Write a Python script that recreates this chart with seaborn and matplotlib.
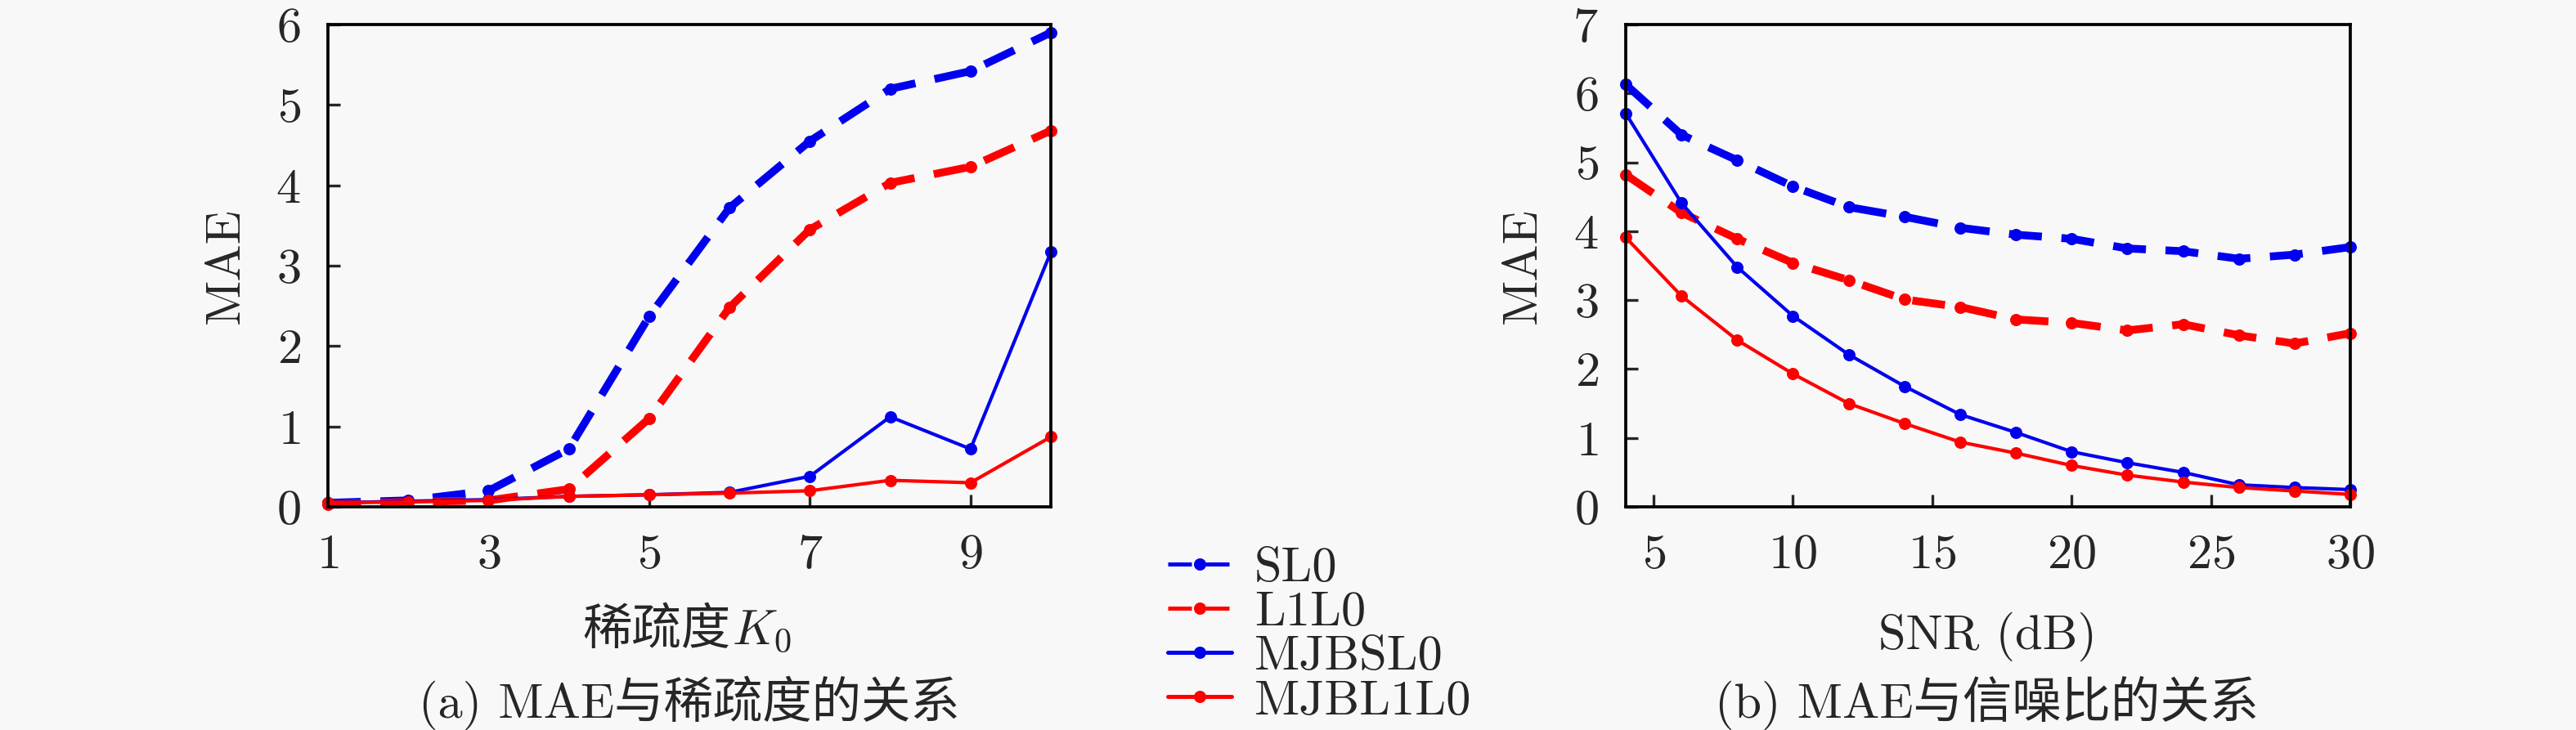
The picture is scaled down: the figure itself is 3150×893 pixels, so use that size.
import numpy as np
import pandas as pd
import matplotlib
matplotlib.use("Agg")
import matplotlib.pyplot as plt
import seaborn as sns
from matplotlib.lines import Line2D

# sparsity experiment
k_vals = [1, 2, 3, 4, 5, 6, 7, 8, 9, 10]
sl0_k = [0.05, 0.08, 0.20, 0.72, 2.37, 3.72, 4.55, 5.20, 5.42, 5.90]
l1l0_k = [0.03, 0.06, 0.08, 0.22, 1.10, 2.48, 3.45, 4.03, 4.23, 4.68]
mjbsl0_k = [0.05, 0.07, 0.09, 0.13, 0.15, 0.18, 0.38, 1.12, 0.72, 3.17]
mjbl1l0_k = [0.05, 0.06, 0.08, 0.13, 0.15, 0.17, 0.20, 0.33, 0.30, 0.87]

# SNR experiment
snr_vals = [4, 6, 8, 10, 12, 14, 16, 18, 20, 22, 24, 26, 28, 30]
sl0_s = [6.13, 5.40, 5.03, 4.65, 4.35, 4.21, 4.05, 3.95, 3.89, 3.75, 3.71, 3.60, 3.66, 3.77]
l1l0_s = [4.82, 4.27, 3.89, 3.54, 3.29, 3.01, 2.90, 2.72, 2.67, 2.56, 2.65, 2.49, 2.37, 2.52]
mjbsl0_s = [5.71, 4.41, 3.48, 2.77, 2.21, 1.75, 1.34, 1.08, 0.80, 0.64, 0.50, 0.32, 0.28, 0.25]
mjbl1l0_s = [3.91, 3.06, 2.42, 1.93, 1.50, 1.21, 0.94, 0.78, 0.60, 0.46, 0.36, 0.28, 0.23, 0.18]

methods = ["SL0", "L1L0", "MJBSL0", "MJBL1L0"]
colors = {"SL0": "#0000ee", "L1L0": "#ff0000", "MJBSL0": "#0000ee", "MJBL1L0": "#ff0000"}
widths = {"SL0": 2.3, "L1L0": 2.3, "MJBSL0": 1.0, "MJBL1L0": 1.0}
dashes = {"SL0": (4.2, 2.5), "L1L0": (4.2, 2.5), "MJBSL0": "", "MJBL1L0": ""}

FS = 14.5
BG = "#f8f8f8"
W, H = 3150, 893

sns.set_style("ticks")
plt.rcParams['font.family'] = ['cmr10', 'Noto Sans CJK SC']
plt.rcParams['mathtext.fontset'] = 'cm'
plt.rcParams['axes.formatter.use_mathtext'] = True
plt.rcParams['font.size'] = FS


def long_df(x, series, xname):
    rows = []
    for m, vals in zip(methods, series):
        for xi, v in zip(x, vals):
            rows.append({xname: xi, "MAE": v, "method": m})
    return pd.DataFrame(rows)


df_k = long_df(k_vals, [sl0_k, l1l0_k, mjbsl0_k, mjbl1l0_k], "K")
df_s = long_df(snr_vals, [sl0_s, l1l0_s, mjbsl0_s, mjbl1l0_s], "SNR")

fig = plt.figure(figsize=(W / 300, H / 300), dpi=300, facecolor=BG)
ax1 = fig.add_axes([401 / W, 1 - 620 / H, 884 / W, 590 / H])
ax2 = fig.add_axes([1988 / W, 1 - 620 / H, 886 / W, 590 / H])


def draw(ax, df, xname):
    ax.set_facecolor(BG)
    for m in methods:
        sub = df[df["method"] == m]
        sns.lineplot(data=sub, x=xname, y="MAE", ax=ax, color=colors[m],
                     linewidth=widths[m], marker="o", markersize=3.6,
                     markeredgewidth=0, legend=False, clip_on=False)
        if dashes[m]:
            ax.lines[-1].set_dashes(dashes[m])
    for s in ax.spines.values():
        s.set_linewidth(0.9)
        s.set_color("black")
    ax.tick_params(direction="in", length=3.5, width=0.8, labelsize=FS, pad=8)
    ax.set_ylabel("MAE", fontsize=FS, labelpad=8)


draw(ax1, df_k, "K")
ax1.set_xlim(1, 10)
ax1.set_ylim(0, 6)
ax1.set_xticks([1, 3, 5, 7, 9])
ax1.set_yticks(range(0, 7))
ax1.set_xlabel("")
# 稀疏度 + K_0, split because mathtext has no CJK glyphs
fig.text(893 / W, 1 - 788 / H, "稀疏度", ha="right", va="baseline", fontsize=FS)
fig.text(895 / W, 1 - 788 / H, "$K_0$", ha="left", va="baseline", fontsize=FS)

draw(ax2, df_s, "SNR")
ax2.set_xlim(4, 30)
ax2.set_ylim(0, 7)
ax2.set_xticks([5, 10, 15, 20, 25, 30])
ax2.set_yticks(range(0, 8))
ax2.set_xlabel("SNR (dB)", fontsize=FS, labelpad=10)

fig.text(843 / W, 1 - 860 / H, "(a) MAE与稀疏度的关系",
         ha="center", va="center", fontsize=FS)
fig.text(2430 / W, 1 - 860 / H, "(b) MAE与信噪比的关系",
         ha="center", va="center", fontsize=FS)

handles = []
for m in methods:
    h = Line2D([], [], color=colors[m], linewidth=1.2, marker="o",
               markersize=3.6, markeredgewidth=0)
    if dashes[m]:
        h.set_dashes((5.8, 3.4))
    handles.append(h)
fig.legend(handles, methods, loc="center left",
           bbox_to_anchor=(1428 / W, 1 - 777 / H), frameon=False,
           fontsize=FS, handlelength=1.29, labelspacing=0.0, handletextpad=0.46,
           borderpad=0, borderaxespad=0)

fig.savefig("out.png", dpi=300, facecolor=BG)
